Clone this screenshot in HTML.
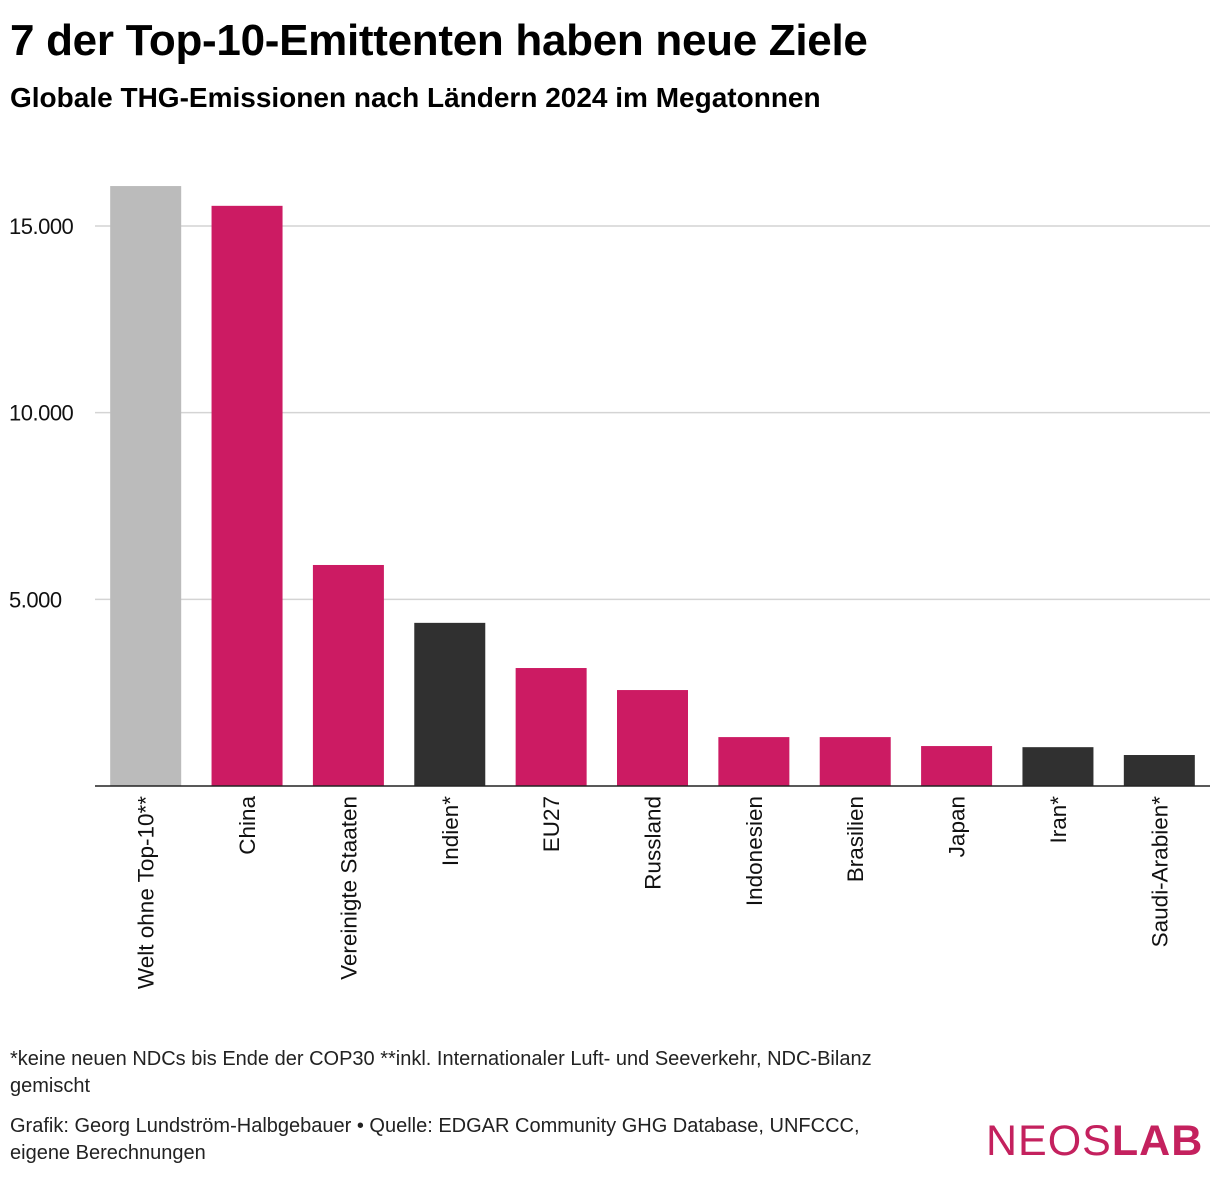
<!DOCTYPE html>
<html><head><meta charset="utf-8"><style>
body{margin:0;width:1220px;height:1180px;background:#fff;font-family:"Liberation Sans",sans-serif;color:#000;position:relative;overflow:hidden}
#title{position:absolute;left:10px;top:16px;font-size:44px;font-weight:bold;margin:0;letter-spacing:-0.3px;white-space:nowrap}
#sub{position:absolute;left:10px;top:82px;font-size:28px;font-weight:bold;margin:0;white-space:nowrap}
.foot{position:absolute;left:10px;font-size:20px;color:#222;line-height:27px}
#logo{position:absolute;left:986px;top:1117px;font-size:43px;font-weight:bold;color:#c4215e;letter-spacing:1px}
#logo span{font-weight:normal}
</style></head><body>
<h1 id="title">7 der Top-10-Emittenten haben neue Ziele</h1>
<h2 id="sub">Globale THG-Emissionen nach Ländern 2024 im Megatonnen</h2>
<svg id="chart" width="1220" height="1010" style="position:absolute;left:0;top:0"></svg>
<div class="foot" style="top:1046px;width:935px">*keine neuen NDCs bis Ende der COP30 **inkl. Internationaler Luft- und Seeverkehr, NDC-Bilanz gemischt</div>
<div class="foot" style="top:1113px;width:905px">Grafik: Georg Lundström-Halbgebauer • Quelle: EDGAR Community GHG Database, UNFCCC, eigene Berechnungen</div>
<div id="logo"><span>NEOS</span>LAB</div>
<script>
const categories=["Welt ohne Top-10**","China","Vereinigte Staaten","Indien*","EU27","Russland","Indonesien","Brasilien","Japan","Iran*","Saudi-Arabien*"];
const values=[16070,15540,5920,4370,3160,2570,1310,1310,1070,1040,830];
const colorGroups=["rest","new","new","none","new","new","new","new","new","none","none"];
const ticks=[5000,10000,15000];
const tickLabels=["5.000","10.000","15.000"];
const NS="http://www.w3.org/2000/svg";
const svg=document.getElementById('chart');
const x0=95,x1=1210,y0=786,kY=186.67/5000;
const band=(x1-x0)/categories.length;
const y=v=>y0-v*kY;
const xc=i=>x0+band*(i+0.5);
const colors={rest:"#bbbbbb",new:"#cc1b63",none:"#303030"};
function mk(t,a){const e=document.createElementNS(NS,t);for(const k in a)e.setAttribute(k,a[k]);svg.appendChild(e);return e;}
ticks.forEach((t,i)=>{
 const g=mk('line',{x1:x0,x2:x1,y1:y(t),y2:y(t),stroke:"#d4d4d4","stroke-width":1.5});
 
 
 const l=mk('text',{x:9,y:y(t)+8,"font-size":22,"letter-spacing":"-0.5","font-family":"Liberation Sans, sans-serif",fill:"#111"});
 l.textContent=tickLabels[i];
 
 
});
categories.forEach((c,i)=>{
 const b=mk('rect',{x:xc(i)-35.5,y:y(values[i]),width:71,height:y0-y(values[i]),fill:colors[colorGroups[i]]});
 
 
 const t=mk('text',{transform:`translate(${xc(i)+8},796) rotate(-90)`,"text-anchor":"end","font-size":22.5,"font-family":"Liberation Sans, sans-serif",fill:"#111"});
 t.textContent=c;
 
 
});
const ax=mk('line',{x1:x0,x2:x1,y1:y0,y2:y0,stroke:"#222","stroke-width":1.5});


</script>
</body></html>
